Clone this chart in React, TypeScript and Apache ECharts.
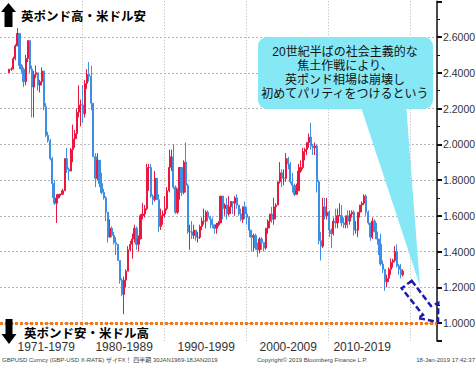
import React, { useEffect, useRef } from "react";
import * as echarts from "echarts";

// Quarterly GBP/USD bars, 1971Q1 .. 2019Q1 (open = previous quarter's close)
const firstYear = 1970;
const lastYear = 2022;
const dataStart = "1971Q1";
const firstOpen = 2.4;

const closes = [
  2.42, 2.42, 2.48, 2.55, 2.62, 2.44, 2.42, 2.35, 2.48, 2.58, 2.42, 2.32,
  2.39, 2.40, 2.33, 2.35, 2.41, 2.21, 2.05, 2.02, 1.92, 1.78, 1.67, 1.70,
  1.72, 1.72, 1.74, 1.92, 1.86, 1.85, 1.97, 2.03, 2.06, 2.18, 2.22, 2.22,
  2.17, 2.34, 2.39, 2.38, 2.23, 1.93, 1.81, 1.91, 1.78, 1.73, 1.70, 1.62,
  1.48, 1.53, 1.49, 1.45, 1.44, 1.35, 1.24, 1.16, 1.24, 1.29, 1.41, 1.44,
  1.47, 1.53, 1.44, 1.47, 1.60, 1.61, 1.64, 1.87, 1.87, 1.71, 1.69, 1.81,
  1.69, 1.54, 1.60, 1.61, 1.64, 1.74, 1.87, 1.93, 1.76, 1.62, 1.75, 1.87,
  1.73, 1.90, 1.77, 1.51, 1.51, 1.49, 1.52, 1.48, 1.48, 1.54, 1.57, 1.57,
  1.62, 1.59, 1.58, 1.55, 1.53, 1.55, 1.56, 1.71, 1.64, 1.66, 1.61, 1.65,
  1.68, 1.67, 1.70, 1.66, 1.61, 1.58, 1.65, 1.61, 1.59, 1.52, 1.48, 1.49,
  1.42, 1.41, 1.47, 1.45, 1.42, 1.53, 1.57, 1.61, 1.58, 1.65, 1.66, 1.79,
  1.84, 1.81, 1.81, 1.92, 1.89, 1.79, 1.77, 1.72, 1.74, 1.85, 1.87, 1.96,
  1.97, 2.01, 2.04, 1.99, 1.98, 1.99, 1.79, 1.46, 1.43, 1.65, 1.60, 1.62,
  1.52, 1.50, 1.57, 1.56, 1.60, 1.60, 1.56, 1.55, 1.60, 1.57, 1.61, 1.62,
  1.52, 1.52, 1.62, 1.66, 1.67, 1.71, 1.62, 1.56, 1.48, 1.57, 1.51, 1.47,
  1.44, 1.33, 1.30, 1.23, 1.25, 1.30, 1.34, 1.35, 1.40, 1.32, 1.30, 1.27,
  1.29,
];

const highs = [
  2.42, 2.43, 2.49, 2.56, 2.65, 2.62, 2.45, 2.43, 2.50, 2.58, 2.58, 2.44,
  2.41, 2.44, 2.40, 2.36, 2.43, 2.41, 2.23, 2.07, 2.03, 1.93, 1.80, 1.72,
  1.72, 1.72, 1.75, 1.92, 1.98, 1.87, 1.98, 2.11, 2.08, 2.20, 2.33, 2.25,
  2.33, 2.36, 2.42, 2.46, 2.44, 2.23, 1.95, 1.95, 1.91, 1.84, 1.75, 1.71,
  1.62, 1.58, 1.54, 1.51, 1.48, 1.43, 1.35, 1.25, 1.26, 1.30, 1.43, 1.46,
  1.50, 1.55, 1.54, 1.49, 1.61, 1.67, 1.66, 1.89, 1.89, 1.89, 1.72, 1.85,
  1.79, 1.72, 1.64, 1.63, 1.71, 1.76, 1.97, 1.97, 2.00, 1.77, 1.75, 1.87,
  1.87, 1.91, 2.01, 1.78, 1.55, 1.57, 1.55, 1.52, 1.51, 1.55, 1.59, 1.64,
  1.63, 1.63, 1.60, 1.59, 1.55, 1.56, 1.57, 1.71, 1.71, 1.67, 1.70, 1.71,
  1.68, 1.68, 1.71, 1.72, 1.66, 1.64, 1.65, 1.68, 1.65, 1.60, 1.50, 1.50,
  1.50, 1.45, 1.48, 1.48, 1.45, 1.53, 1.58, 1.61, 1.65, 1.70, 1.67, 1.79,
  1.90, 1.86, 1.86, 1.95, 1.93, 1.90, 1.84, 1.78, 1.78, 1.89, 1.91, 1.98,
  1.98, 2.01, 2.06, 2.12, 2.00, 2.01, 2.00, 1.80, 1.51, 1.70, 1.70, 1.70,
  1.63, 1.53, 1.59, 1.64, 1.64, 1.67, 1.66, 1.59, 1.60, 1.63, 1.63, 1.63,
  1.63, 1.57, 1.62, 1.66, 1.68, 1.72, 1.72, 1.63, 1.56, 1.59, 1.58, 1.56,
  1.47, 1.50, 1.35, 1.30, 1.27, 1.31, 1.36, 1.36, 1.43, 1.44, 1.33, 1.33,
  1.30,
];

const lows = [
  2.40, 2.41, 2.42, 2.47, 2.55, 2.42, 2.40, 2.32, 2.33, 2.46, 2.40, 2.15,
  2.15, 2.37, 2.30, 2.29, 2.33, 2.19, 2.04, 2.01, 1.91, 1.70, 1.66, 1.56,
  1.70, 1.71, 1.72, 1.74, 1.84, 1.80, 1.85, 1.90, 1.98, 2.03, 2.15, 2.10,
  2.12, 2.15, 2.31, 2.35, 2.19, 1.93, 1.76, 1.80, 1.76, 1.72, 1.69, 1.57,
  1.45, 1.48, 1.48, 1.44, 1.38, 1.35, 1.22, 1.15, 1.05, 1.20, 1.29, 1.40,
  1.36, 1.45, 1.41, 1.40, 1.47, 1.58, 1.59, 1.63, 1.74, 1.70, 1.66, 1.68,
  1.69, 1.51, 1.52, 1.55, 1.59, 1.63, 1.73, 1.85, 1.75, 1.61, 1.61, 1.69,
  1.71, 1.72, 1.73, 1.50, 1.41, 1.47, 1.47, 1.46, 1.45, 1.47, 1.52, 1.55,
  1.53, 1.57, 1.53, 1.53, 1.50, 1.50, 1.54, 1.56, 1.58, 1.60, 1.58, 1.60,
  1.61, 1.61, 1.60, 1.64, 1.60, 1.57, 1.56, 1.58, 1.55, 1.48, 1.40, 1.40,
  1.41, 1.37, 1.39, 1.41, 1.40, 1.41, 1.50, 1.53, 1.56, 1.55, 1.58, 1.66,
  1.78, 1.76, 1.77, 1.79, 1.86, 1.78, 1.73, 1.71, 1.72, 1.74, 1.84, 1.86,
  1.91, 1.94, 1.98, 1.97, 1.94, 1.94, 1.73, 1.44, 1.35, 1.42, 1.58, 1.58,
  1.48, 1.42, 1.49, 1.53, 1.53, 1.60, 1.54, 1.53, 1.53, 1.53, 1.55, 1.59,
  1.49, 1.50, 1.48, 1.59, 1.62, 1.66, 1.60, 1.55, 1.46, 1.47, 1.51, 1.47,
  1.38, 1.32, 1.28, 1.18, 1.20, 1.23, 1.27, 1.31, 1.34, 1.31, 1.27, 1.25,
  1.26,
];

const decadeLabels = ["1971-1979", "1980-1989", "1990-1999", "2000-2009", "2010-2019"];
const decadeLabelAt = ["1975Q3", "1985Q1", "1995Q1", "2005Q1", "2014Q1"];
const decadeLineYears = [1980, 1990, 2000, 2010, 2020];
const parityLevel = 1.0;
const yMin = 0.9;
const yMax = 2.8;

const topLabel = "英ポンド高・米ドル安";
const bottomLabel = "英ポンド安・米ドル高";
const calloutLines = [
  "20世紀半ばの社会主義的な",
  "焦土作戦により、",
  "英ポンド相場は崩壊し",
  "初めてパリティをつけるという",
];
const footerLeft = "GBPUSD Curncy (GBP-USD X-RATE) ザイFX！ 四半期 30JAN1969-18JAN2019";
const footerMid = "Copyright© 2019 Bloomberg Finance L.P.";
const footerRight = "18-Jan-2019 17:42:37";

const categories: string[] = [];
for (let y = firstYear; y <= lastYear; y++) {
  for (let q = 1; q <= 4; q++) categories.push(`${y}Q${q}`);
}
categories.push(`${lastYear + 1}Q1`);

const startIdx = categories.indexOf(dataStart);
const ohlc = categories.map((_, i) => {
  const k = i - startIdx;
  if (k < 0 || k >= closes.length) return "-";
  const open = k === 0 ? firstOpen : closes[k - 1];
  return [open, closes[k], lows[k], highs[k]];
});

const JP = '"Noto Sans CJK JP", sans-serif';
const JP_TIGHT = '"Liberation Sans", "Noto Sans CJK JP", sans-serif';

export default function App() {
  const ref = useRef<HTMLDivElement>(null);
  useEffect(() => {
    if (!ref.current) return;
    const chart = echarts.init(ref.current, undefined, { renderer: "svg" });
    const calloutTexts = calloutLines.map((line, i) => ({
      type: "text",
      z: 101,
      style: {
        text: line, x: 345, y: 52 + i * 14, fill: "#111", fontSize: 12, lineHeight: 13,
        fontFamily: JP_TIGHT, align: "center", textAlign: "center",
        verticalAlign: "middle", textVerticalAlign: "middle",
      },
    }));
    const option: any = {
      animation: false,
      backgroundColor: "#ffffff",
      grid: { left: 0, right: 39, top: 1.25, bottom: 24.1, containLabel: false, outerBoundsMode: "none" },
      xAxis: {
        type: "category",
        data: categories,
        boundaryGap: true,
        axisLine: { show: false },
        axisTick: { show: false },
        axisLabel: {
          interval: (_i: number, v: string) => decadeLabelAt.includes(v),
          formatter: (v: string) => decadeLabels[decadeLabelAt.indexOf(v)] ?? "",
          color: "#333",
          fontSize: 12,
          lineHeight: 13,
          fontFamily: '"Liberation Sans Narrow", "Liberation Sans", sans-serif',
          margin: 0,
        },
        splitLine: {
          show: true,
          interval: (_i: number, v: string) => {
            const y = parseInt(v.slice(0, 4), 10);
            return v.endsWith("Q1") && decadeLineYears.includes(y);
          },
          lineStyle: { color: "#b4b4b4", type: [1, 2], width: 1 },
        },
      },
      yAxis: {
        type: "value",
        position: "right",
        min: yMin,
        max: yMax,
        splitNumber: 10,
        axisLine: { show: true, lineStyle: { color: "#111", width: 1.5 } },
        axisTick: { show: true, length: 5, lineStyle: { color: "#111", width: 2 } },
        minorTick: { show: true, splitNumber: 2, length: 3, lineStyle: { color: "#111", width: 1 } },
        axisLabel: {
          showMinLabel: false,
          showMaxLabel: false,
          formatter: (v: number) => v.toFixed(4),
          color: "#333",
          fontSize: 10.5,
          fontFamily: '"Liberation Sans", sans-serif',
          margin: 6,
        },
        splitLine: {
          show: true,
          showMinLine: false,
          showMaxLine: false,
          lineStyle: { color: "#b4b4b4", type: [2, 2], width: 1 },
        },
      },
      series: [
        {
          type: "candlestick",
          data: ohlc,
          barWidth: 1.7,
          itemStyle: {
            color: "#e8183e",
            color0: "#3d8fe4",
            borderColor: "#e8183e",
            borderColor0: "#3d8fe4",
            borderWidth: 1,
          },
          markLine: {
            silent: true,
            symbol: "none",
            label: { show: false },
            lineStyle: { color: "#f07a1c", type: [3, 2], width: 3 },
            data: [{ yAxis: parityLevel }],
            z: 10,
          },
        },
      ],
      graphic: [
        // top arrow + label
        {
          type: "polygon",
          z: 100,
          shape: { points: [[1, 12], [8.5, 3], [16, 12], [12.5, 12], [12.5, 27], [4.5, 27], [4.5, 12]] },
          style: { fill: "#000" },
        },
        {
          type: "text",
          z: 100,
          style: {
            text: topLabel, x: 21, y: 15, fill: "#000", fontSize: 12.5, fontWeight: "bold",
            fontFamily: JP, verticalAlign: "middle", textVerticalAlign: "middle",
          },
        },
        // bottom arrow + label
        {
          type: "polygon",
          z: 100,
          shape: { points: [[5.5, 319], [12.5, 319], [12.5, 334], [16.5, 334], [9, 344], [1.5, 334], [5.5, 334]] },
          style: { fill: "#000" },
        },
        {
          type: "text",
          z: 100,
          style: {
            text: bottomLabel, x: 24, y: 332, fill: "#000", fontSize: 12.5, fontWeight: "bold",
            fontFamily: JP, verticalAlign: "middle", textVerticalAlign: "middle",
          },
        },
        // callout
        {
          type: "polygon",
          z: 100,
          shape: { points: [[360, 104], [406, 104], [420, 286]] },
          style: { fill: "#86e7f5" },
        },
        {
          type: "rect",
          z: 100,
          shape: { x: 258, y: 37, width: 175, height: 72, r: 9 },
          style: { fill: "#86e7f5" },
        },
        ...calloutTexts,
        // dashed arrow toward parity
        {
          type: "polygon",
          z: 100,
          shape: {
            points: [[411.7, 280.7], [431, 306], [438.3, 303], [438, 322], [418, 318], [423, 315], [401.7, 288.3]],
          },
          style: { fill: "none", stroke: "#1c1cab", lineWidth: 2.5, lineDash: [6, 3] },
        },
        // footer
        {
          type: "text",
          z: 100,
          style: { text: footerLeft, x: 2, y: 359.5, fill: "#444", fontSize: 6, lineHeight: 7, fontFamily: JP_TIGHT, verticalAlign: "middle", textVerticalAlign: "middle" },
        },
        {
          type: "text",
          z: 100,
          style: { text: footerMid, x: 257, y: 359.5, fill: "#444", fontSize: 6, lineHeight: 7, fontFamily: '"Liberation Sans", sans-serif', verticalAlign: "middle", textVerticalAlign: "middle" },
        },
        {
          type: "text",
          z: 100,
          style: { text: footerRight, x: 475, y: 359.5, fill: "#444", fontSize: 6, lineHeight: 7, fontFamily: '"Liberation Sans", sans-serif', align: "right", textAlign: "right", verticalAlign: "middle", textVerticalAlign: "middle" },
        },
      ],
    };
    chart.setOption(option);
    return () => chart.dispose();
  }, []);
  return (
    <div
      ref={ref}
      style={{ position: "fixed", left: 0, top: 0, width: 476, height: 365, background: "#fff" }}
    />
  );
}
